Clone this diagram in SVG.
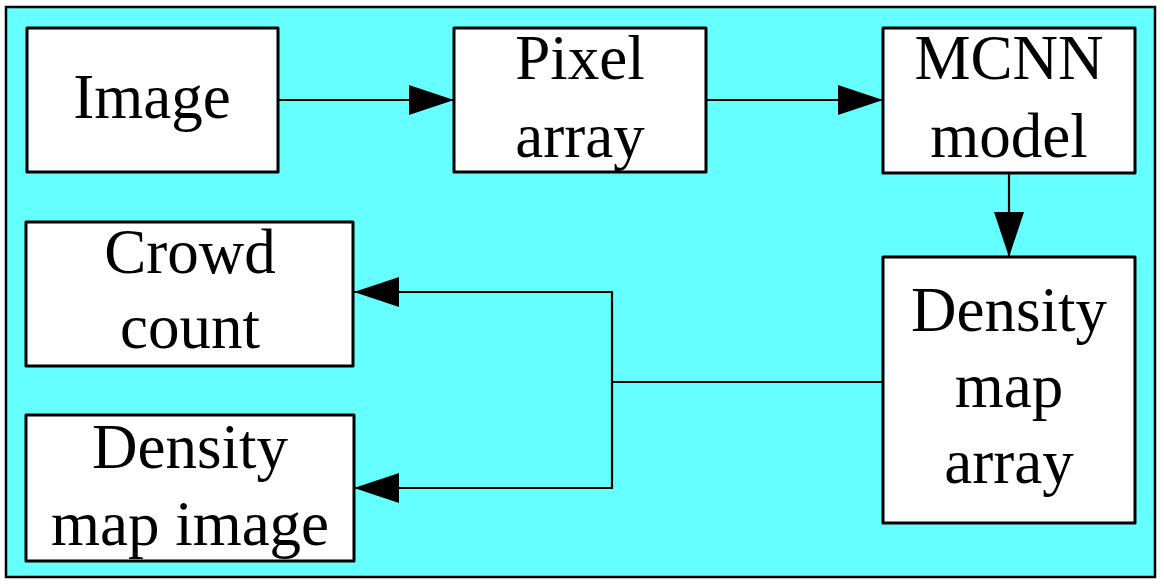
<svg xmlns="http://www.w3.org/2000/svg" width="1164" height="586" viewBox="0 0 1164 586">
<defs>
<marker id="arr" markerUnits="userSpaceOnUse" markerWidth="46" markerHeight="32" refX="45" refY="15" orient="auto">
<path d="M0,0 L45,15 L0,30 Z" fill="#000"/>
</marker>
<style>
.box{fill:#fff;stroke:#000;stroke-width:3;stroke-linejoin:round}
.lbl{font-family:"Liberation Serif","Times New Roman",serif;font-size:63px;fill:#000;text-anchor:middle}
.con{fill:none;stroke:#000;stroke-width:2.2}
</style>
</defs>
<rect x="6" y="7" width="1149" height="570" fill="#66FFFF" stroke="#000" stroke-width="2.5"/>
<g id="connectors">
<line class="con" x1="279" y1="100" x2="454" y2="100" marker-end="url(#arr)"/>
<line class="con" x1="706" y1="100" x2="883" y2="100" marker-end="url(#arr)"/>
<line class="con" x1="1009" y1="173" x2="1009" y2="257" marker-end="url(#arr)"/>
<polyline class="con" points="883,382 612,382"/>
<polyline class="con" points="612,291 612,489"/>
<line class="con" x1="613" y1="292" x2="354" y2="292" marker-end="url(#arr)"/>
<line class="con" x1="613" y1="488" x2="354" y2="488" marker-end="url(#arr)"/>
</g>
<g id="node-image">
<rect class="box" x="27" y="28" width="251" height="144"/>
<text class="lbl" x="152" y="118">Image</text>
</g>
<g id="node-pixel">
<rect class="box" x="454" y="28" width="252" height="144"/>
<text class="lbl" x="580" y="79">Pixel</text>
<text class="lbl" x="580" y="157">array</text>
</g>
<g id="node-mcnn">
<rect class="box" x="883" y="28" width="252" height="145"/>
<text class="lbl" x="1009" y="79">MCNN</text>
<text class="lbl" x="1009" y="157">model</text>
</g>
<g id="node-densityarray">
<rect class="box" x="883" y="257" width="252" height="266"/>
<text class="lbl" x="1009" y="331">Density</text>
<text class="lbl" x="1009" y="407">map</text>
<text class="lbl" x="1009" y="483">array</text>
</g>
<g id="node-crowd">
<rect class="box" x="26" y="222" width="327" height="144"/>
<text class="lbl" x="190" y="273">Crowd</text>
<text class="lbl" x="190" y="348">count</text>
</g>
<g id="node-densityimage">
<rect class="box" x="26" y="415" width="328" height="146"/>
<text class="lbl" x="190" y="468">Density</text>
<text class="lbl" x="190" y="545">map image</text>
</g>
</svg>
